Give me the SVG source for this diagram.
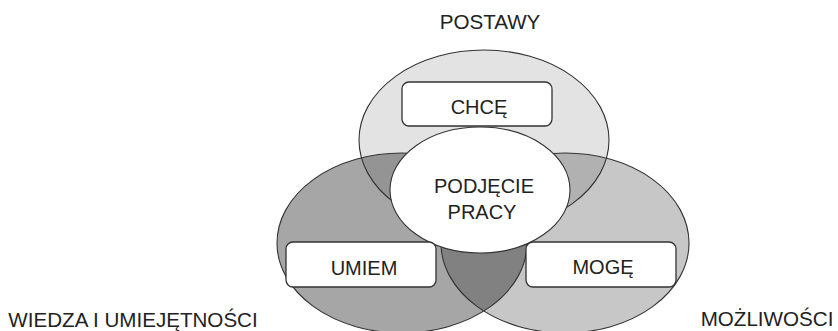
<svg xmlns="http://www.w3.org/2000/svg" xmlns:xlink="http://www.w3.org/1999/xlink" width="838" height="331" viewBox="0 0 838 331">
  <style>
    .lbl { font-family: "Liberation Sans", Arial, sans-serif; font-size: 20px; fill: #222; text-anchor: middle; }
    .cap { font-size: 20.6px; }
    .area { fill: #000; stroke: none; }
    .edge { fill: none; stroke: #333; stroke-width: 1.1; }
    .box { fill: #fff; stroke: #333; stroke-width: 1.3; }
  </style>
  <defs>
    <ellipse id="e-top" cx="484" cy="140" rx="125" ry="90"/>
    <ellipse id="e-left" cx="402" cy="243" rx="125" ry="90"/>
    <ellipse id="e-right" cx="565" cy="243" rx="124" ry="90"/>
  </defs>
  <rect width="838" height="331" fill="#fff"/>

  <!-- three overlapping areas; translucent black fills darken where they overlap -->
  <g id="postawy">
    <use xlink:href="#e-top" class="area" fill-opacity="0.11"/>
  </g>
  <g id="wiedza">
    <use xlink:href="#e-left" class="area" fill-opacity="0.35"/>
  </g>
  <g id="mozliwosci">
    <use xlink:href="#e-right" class="area" fill-opacity="0.22"/>
  </g>
  <g id="outlines">
    <use xlink:href="#e-top" class="edge"/>
    <use xlink:href="#e-left" class="edge"/>
    <use xlink:href="#e-right" class="edge"/>
  </g>

  <!-- area captions -->
  <text class="lbl cap" x="490" y="29">POSTAWY</text>
  <text class="lbl cap" x="133" y="327">WIEDZA I UMIEJĘTNOŚCI</text>
  <text class="lbl cap" x="767" y="326">MOŻLIWOŚCI</text>

  <g id="podjecie">
    <ellipse cx="480" cy="190" rx="90" ry="63" fill="#fff" stroke="#333" stroke-width="1.1"/>
    <text class="lbl" x="484" y="193">PODJĘCIE</text>
    <text class="lbl" x="482" y="219">PRACY</text>
  </g>
  <g id="chce">
    <rect class="box" x="402" y="82" width="150" height="44" rx="7"/>
    <text class="lbl" x="479" y="114">CHCĘ</text>
  </g>
  <g id="umiem">
    <rect class="box" x="286" y="242" width="150" height="45" rx="7"/>
    <text class="lbl" x="364" y="275">UMIEM</text>
  </g>
  <g id="moge">
    <rect class="box" x="526" y="242" width="150" height="45" rx="7"/>
    <text class="lbl" x="603" y="274">MOGĘ</text>
  </g>
</svg>
